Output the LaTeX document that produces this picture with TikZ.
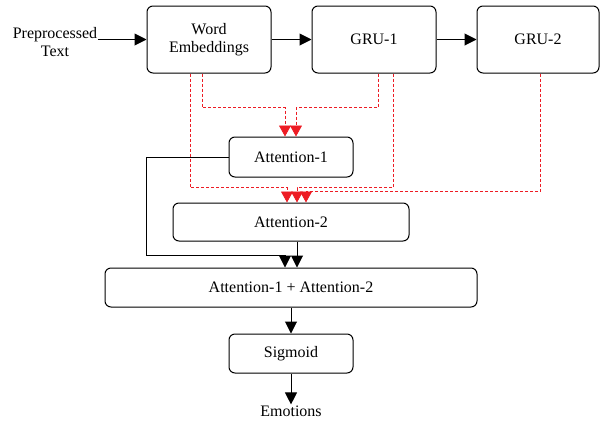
\documentclass[tikz,border=0pt]{standalone}
\usepackage{fontspec}
\setmainfont{Liberation Serif}
\usetikzlibrary{arrows.meta}
\definecolor{dashRed}{RGB}{237,28,36}
\begin{document}
\begin{tikzpicture}
  [x=1pt,y=-1pt,
   boxN/.style={draw,rounded corners=6pt,line width=1pt,fill=white,
                align=center,inner sep=0pt},
   textN/.style={align=center,inner sep=1pt},
   flowL/.style={line width=1pt,-{Triangle[length=12pt,width=12pt]}},
   dashL/.style={draw=dashRed,line width=0.8pt,dash pattern=on 3pt off 2pt,
                 -{Triangle[length=11pt,width=12pt,fill=dashRed,color=dashRed]}},
   font=\fontsize{16}{18}\selectfont]

  \useasboundingbox (0,0) rectangle (600,421);

  \node[textN] (pre) at (55,42) {Preprocessed\\Text};

  \node[boxN,minimum width=124pt,minimum height=67pt] (we)   at (209,39.5) {Word\\Embeddings};
  \node[boxN,minimum width=124pt,minimum height=67pt] (gru1) at (374,39.5) {GRU-1};
  \node[boxN,minimum width=122pt,minimum height=67pt] (gru2) at (538,39.5) {GRU-2};

  \node[boxN,minimum width=124pt,minimum height=40pt] (att1) at (291,157)   {Attention-1};
  \node[boxN,minimum width=236pt,minimum height=38pt] (att2) at (291,222)   {Attention-2};
  \node[boxN,minimum width=372pt,minimum height=39pt] (sum)  at (291,287.5) {Attention-1 + Attention-2};
  \node[boxN,minimum width=124pt,minimum height=39pt] (sig)  at (291,353.5) {Sigmoid};

  \node[textN] (emo) at (291,411) {Emotions};

  % main flow
  \draw[flowL] (pre.east |- we.west) -- (we.west);
  \draw[flowL] (we) -- (gru1);
  \draw[flowL] (gru1) -- (gru2);

  % attention inputs
  \draw[dashL] ([xshift=-7pt]we.south)   -- ++(0,34)  -| ([xshift=-6pt]att1.north);
  \draw[dashL] ([xshift=4pt]gru1.south)  -- ++(0,34)  -| ([xshift=5pt]att1.north);
  \draw[dashL] ([xshift=-19pt]we.south)  -- ++(0,114) -| ([xshift=-4pt]att2.north);
  \draw[dashL] ([xshift=19pt]gru1.south) -- ++(0,114) -| ([xshift=6pt]att2.north);
  \draw[dashL] ([xshift=2pt]gru2.south)  -- ++(0,118) -| ([xshift=15pt]att2.north);

  % merge and output
  \draw[flowL] (att1.west) -- ++(-82,0) -- ++(0,98) -| ([xshift=-6pt]sum.north);
  \draw[flowL] ([xshift=6pt]att2.south) -- ([xshift=6pt]sum.north);
  \draw[flowL] (sum) -- (sig);
  \draw[flowL] (sig) -- (emo);
\end{tikzpicture}
\end{document}
